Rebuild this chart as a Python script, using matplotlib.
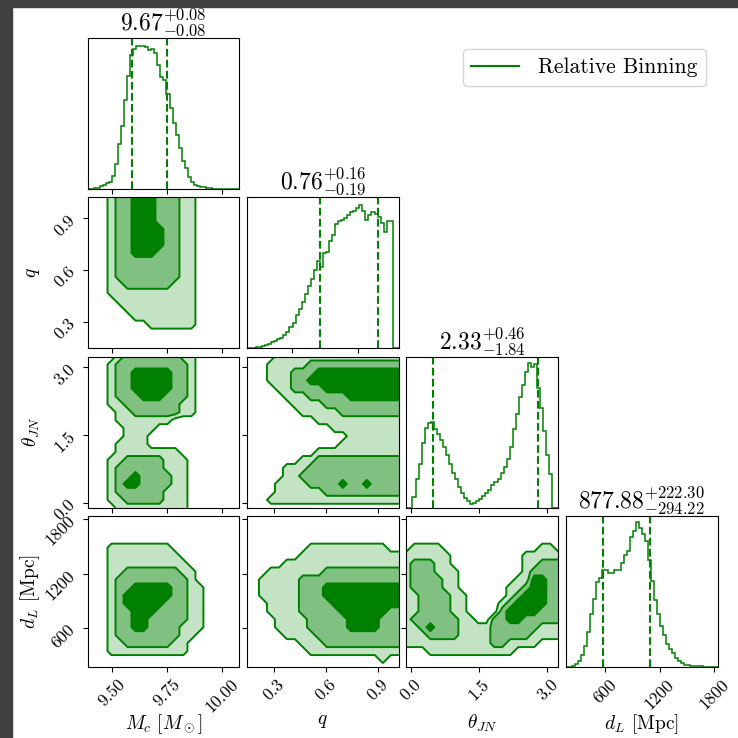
import numpy as np
import matplotlib
matplotlib.use("Agg")
from matplotlib import pyplot as plt
from matplotlib.lines import Line2D
from matplotlib.patches import Rectangle

plt.rcParams['font.family'] = 'serif'
plt.rcParams['font.serif'] = ['cmr10']
plt.rcParams['mathtext.fontset'] = 'cm'
plt.rcParams['axes.unicode_minus'] = False

# parameters
names = ['mc', 'q', 'th', 'dl']
labels = [r'$M_c\ [M_\odot]$', r'$q$', r'$\theta_{JN}$', r'$d_L$ [Mpc]']
limits = {'mc': (9.39, 10.08), 'q': (0.145, 1.023), 'th': (-0.10, 3.24), 'dl': (171, 1838)}
q_hist_limits = (0.127, 1.048)
ticks = {'mc': [9.50, 9.75, 10.00], 'q': [0.3, 0.6, 0.9], 'th': [0.0, 1.5, 3.0], 'dl': [600, 1200, 1800]}
tick_labels = {'mc': ['9.50', '9.75', '10.00'], 'q': ['0.3', '0.6', '0.9'],
               'th': ['0.0', '1.5', '3.0'], 'dl': ['600', '1200', '1800']}
titles = [r'$9.67^{+0.08}_{-0.08}$', r'$0.76^{+0.16}_{-0.19}$',
          r'$2.33^{+0.46}_{-1.84}$', r'$877.88^{+222.30}_{-294.22}$']
quantiles = {'mc': [9.59, 9.75], 'q': [0.57, 0.92], 'th': [0.49, 2.79], 'dl': [583.66, 1100.18]}

# 1d histograms (50 bins, height in % of panel)
mc_hist = [0, 0, 0.5, 1, 2, 2.5, 4, 5, 9, 17, 30, 42, 59, 75, 89, 93, 95, 95, 95, 94,
           92, 93, 90, 82, 74, 72, 63, 54, 44, 36, 27, 19, 14, 8, 5, 3, 2.4, 1.8, 1.3, 0.9,
           0.7, 0.4, 0.3, 0.2, 0.1, 0, 0, 0, 0, 0]
q_hist = [0, 0, 0.3, 0.7, 1.1, 1.8, 2.4, 3, 4, 5, 6, 7, 9, 11, 14, 17, 22, 26, 31, 36,
          41, 46, 52, 58, 54, 63, 64, 71, 75, 82, 84, 85, 86, 88, 90, 91, 93, 95, 91, 85,
          88, 90, 89, 87, 83, 77, 84, 84, 0, 0]
th_hist = [0, 0, 7, 19, 29, 43, 53, 56, 57, 52, 49, 45, 40, 35, 29, 23, 19, 14, 10, 6.6,
           4.4, 2.7, 3, 4.4, 5.8, 7.7, 9.7, 12, 15, 17, 19, 23, 27, 32, 40, 52, 62, 73, 81, 90,
           96, 93, 95, 79, 66, 51, 35, 22, 0, 0]
dl_hist = [0, 0, 0.5, 2, 4, 8, 14, 23, 35, 45, 56, 59, 64, 64, 62, 62, 64, 64, 69, 74,
           77, 86, 90, 96, 92, 88, 83, 71, 57, 44, 35, 27, 21, 15, 12, 9, 6, 4, 2.7, 1.6,
           1.1, 0.9, 0.7, 0.9, 0.9, 0.2, 0, 0, 0, 0]
hists = {'mc': mc_hist, 'q': q_hist, 'th': th_hist, 'dl': dl_hist}

# 2d credible-region levels (top row first, 0=outside, 3=innermost)
q_vs_mc = ["00012233322211000000", "00012233322211000000", "00012233322211000000",
           "00012233322211000000", "00012233332211000000", "00012233332211000000",
           "00012233332211000000", "00012233322211000000", "00012222222211000000",
           "00012222222211000000", "00012222222211000000", "00011222222111000000",
           "00011111111111000000", "00001111111111000000", "00000111111111000000",
           "00000011111111000000", "00000000111111000000", "00000000000000000000",
           "00000000000000000000", "00000000000000000000"]
th_vs_mc = ["00001222222211000000", "00012222222221000000", "00012233333221000000",
            "00012233333221000000", "00012233333221000000", "00012223332221000000",
            "00011222222211000000", "00001122222211000000", "00001111111000000000",
            "00000111100000000000", "00000111000000000000", "00001111000000000000",
            "00001111111100000000", "00011222221110000000", "00012222221110000000",
            "00012232222110000000", "00012332222110000000", "00012222221110000000",
            "00011222221110000000", "00001111111110000000"]
th_vs_q = ["00001111111111111111", "00011111222222222222", "00011122233333333333",
           "00011122333333333333", "00001122223333333333", "00000111222223333333",
           "00000011112222222222", "00000001111122222222", "00000000011111111111",
           "00000000000111111111", "00000000000001111111", "00000000000011111111",
           "00000000011111111111", "00000001122222222222", "00000111222222222222",
           "00000112222222222222", "00001111222232232222", "00001111112222222222",
           "00011111111111111111", "00000000000000000000"]
dl_vs_mc = ["00000000000000000000", "00000000000000000000", "00000000000000000000",
            "00000000000000000000", "00011111111000000000", "00011111111100000000",
            "00011111111110000000", "00011222222211000000", "00012222222221000000",
            "00012233333221100000", "00012333333221100000", "00012333332221100000",
            "00012233322221100000", "00012233222221100000", "00012233222211100000",
            "00012222222211000000", "00011222222110000000", "00011111111110000000",
            "00000000000000000000", "00000000000000000000"]
dl_vs_q = ["00000000000000000000", "00000000000000000000", "00000000000000000000",
           "00000000000000000000", "00000000111111111100", "00000001111111111111",
           "00000111111111111111", "00011111112222222222", "00111112222222222222",
           "00111112223333333333", "00111112223333333333", "00011112222333333333",
           "00011112222233333322", "00001111222223333222", "00001111222223333222",
           "00000111122222222222", "00000001112222222222", "00000000111111111111",
           "00000000000000000100", "00000000000000000000"]
dl_vs_th = ["00000000000000000000", "00000000000000000000", "00000000000000000000",
            "00000000000000000000", "01111000000000000110", "11111100000000011111",
            "12221100000000011222", "12221110000000012222", "12222110000000113322",
            "12222110000001123322", "11222211000001233322", "11222211000012333322",
            "11222211000023333222", "12222221100223322222", "11232221111222222111",
            "11122221111222221111", "11111111111221111000", "00011111111111000000",
            "00000000000000000000", "00000000000000000000"]
grids = {(1, 0): q_vs_mc, (2, 0): th_vs_mc, (2, 1): th_vs_q,
         (3, 0): dl_vs_mc, (3, 1): dl_vs_q, (3, 2): dl_vs_th}

fill_colors = ['#c4e3c4', '#80c080', '#008000']
line_color = 'green'

fig, axes = plt.subplots(4, 4, figsize=(7.38, 7.38), dpi=100)
plt.subplots_adjust(left=0.1186, right=0.9725, bottom=0.0962, top=0.9485,
                    wspace=0.05, hspace=0.053)

for i in range(4):
    for j in range(4):
        ax = axes[i, j]
        if j > i:
            ax.axis('off')
            continue
        px, py = names[j], names[i]
        if i == j:
            lo, hi = q_hist_limits if px == 'q' else limits[px]
            edges = np.linspace(lo, hi, len(hists[px]) + 1)
            ax.stairs(hists[px], edges, color=line_color, lw=1.1)
            for v in quantiles[px]:
                ax.axvline(v, color=line_color, ls='--', lw=1.5)
            ax.set_xlim(lo, hi)
            ax.set_ylim(0, 100)
            ax.set_yticks([])
            ax.set_title(titles[i], fontsize=17, pad=1)
            if px == 'q':
                ax.set_xticks([0.4, 0.8])
            else:
                ax.set_xticks(ticks[px])
        else:
            z = np.flipud(np.array([[int(c) for c in row] for row in grids[(i, j)]]))
            xs = np.linspace(*limits[px], z.shape[1])
            ys = np.linspace(*limits[py], z.shape[0])
            ax.contourf(xs, ys, z, levels=[0.5, 1.5, 2.5, 3.5], colors=fill_colors)
            ax.contour(xs, ys, z, levels=[0.5, 1.5, 2.5], colors=line_color, linewidths=1.4)
            ax.set_xlim(*limits[px])
            ax.set_ylim(*limits[py])
            ax.set_xticks(ticks[px])
            ax.set_yticks(ticks[py])
            if j == 0:
                ax.set_yticklabels(tick_labels[py], rotation=45, fontsize=12.5)
                ax.set_ylabel(labels[i], fontsize=14)
                ax.yaxis.set_label_coords(-0.3, 0.5)
            else:
                ax.set_yticklabels([])
        if i == 3:
            ax.set_xticklabels(tick_labels[px], rotation=45, fontsize=12.5)
            ax.set_xlabel(labels[j], fontsize=14)
            ax.xaxis.set_label_coords(0.5, -0.3)
        else:
            ax.set_xticklabels([])

fig.legend(handles=[Line2D([], [], color=line_color)], labels=['Relative Binning'],
           loc='upper right', bbox_to_anchor=(706 / 738, 1 - 49 / 738), borderaxespad=0,
           fontsize=15.5, handlelength=2.2, handletextpad=0.9, edgecolor='#cccccc')

# dark screenshot border
fig.add_artist(Rectangle((0, 0), 12 / 738, 1, transform=fig.transFigure, color='#404040'))
fig.add_artist(Rectangle((0, 1 - 7 / 738), 1, 7 / 738, transform=fig.transFigure, color='#404040'))

fig.savefig('out.png', dpi=100)
